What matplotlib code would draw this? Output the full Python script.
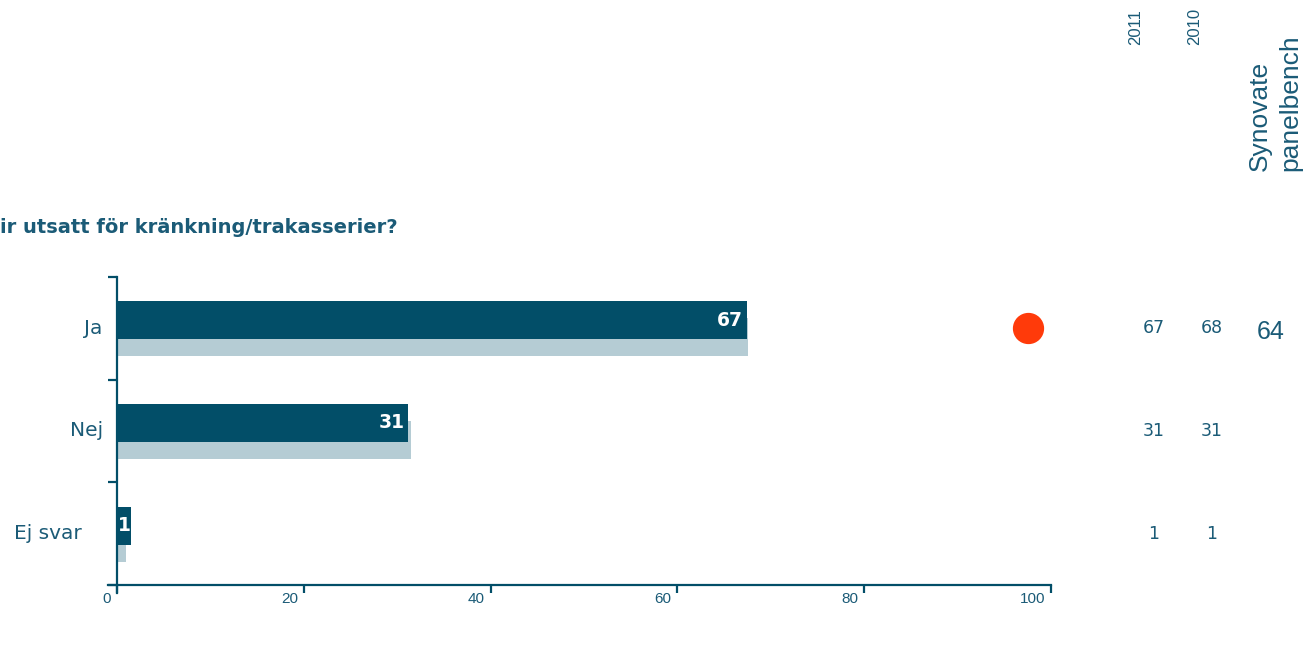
import matplotlib
matplotlib.use('Agg')
import matplotlib.pyplot as plt
import matplotlib.transforms as mtransforms
from matplotlib.lines import Line2D

# data
categories = ['Ja', 'Nej', 'Ej svar']
values_2011 = [67.4, 31.2, 1.5]
values_2010 = [67.6, 31.5, 1.0]
bar_labels = ['67', '31', '1']
table_2011 = ['67', '31', '1']
table_2010 = ['68', '31', '1']
benchmark = ['64', '', '']
flag_x = [97.5]          # red indicator dot on the "Ja" row
flag_row = [0]
xticks = [0, 20, 40, 60, 80, 100]
title = 'ir utsatt för kränkning/trakasserier?'

DARK = '#024E68'
LIGHT = '#B5CCD4'
TXT = '#1B5B77'
RED = '#FF3A0A'
W, H = 1305, 650

fig = plt.figure(figsize=(W / 100, H / 100), dpi=100)
ax = fig.add_axes([117 / W, 65 / H, 934 / W, 308 / H])

y = list(range(len(categories)))
ax.barh([v + 0.088 for v in y], values_2010, height=0.369, color=LIGHT, zorder=1)
ax.barh([v - 0.078 for v in y], values_2011, height=0.369, color=DARK, zorder=2)

off = mtransforms.offset_copy
for i, (v, lab) in enumerate(zip(values_2011, bar_labels)):
    dx = -4 if v > 5 else 0
    ax.text(v, i - 0.078, lab, transform=off(ax.transData, fig=fig, x=dx, y=0, units='dots'),
            ha='right', va='center', color='white', fontsize=13.5, fontweight='bold',
            family='DejaVu Sans', zorder=3)

ax.plot(flag_x, flag_row, 'o', color=RED, markersize=21.5, clip_on=False, zorder=4)

ax.set_xlim(0, 100)
ax.set_ylim(len(categories) - 0.5, -0.5)
for s in ax.spines.values():
    s.set_visible(False)

# axis lines, extended a little past the corner
ax.add_line(Line2D([-0.0096, 1.0], [0, 0], transform=ax.transAxes, color=DARK,
                   lw=1.6, clip_on=False))
ax.add_line(Line2D([0, 0], [-0.026, 1.0], transform=ax.transAxes, color=DARK,
                   lw=1.6, clip_on=False))

ax.set_xticks(xticks)
ax.set_xticklabels([])
ax.tick_params(axis='x', direction='out', length=6, width=1.6, color=DARK)
xt = mtransforms.blended_transform_factory(ax.transData, ax.transAxes)
for t in xticks:
    ax.text(t, 0, str(t), transform=off(xt, fig=fig, x=-6, y=-14, units='dots'),
            ha='right', va='center', fontsize=11, color=TXT, family='Liberation Sans')

ax.set_yticks([v - 0.5 for v in range(len(categories) + 1)])
ax.set_yticklabels([])
ax.tick_params(axis='y', direction='out', length=6.5, width=1.6, color=DARK)

label_pad = [15, 14, 35]
for i, (cat, p) in enumerate(zip(categories, label_pad)):
    ax.text(0, i, cat, transform=off(ax.transData, fig=fig, x=-p, y=0, units='dots'),
            ha='right', va='center', color=TXT, fontsize=14.5, family='DejaVu Sans')

fig.text(0, 1 - 228 / H, title, ha='left', va='center', color=TXT, fontsize=14,
         fontweight='bold', family='DejaVu Sans')

# right-hand table
bt = mtransforms.blended_transform_factory(fig.transFigure, ax.transData)
for i in y:
    ax.text(1154 / W, i, table_2011[i], transform=bt, ha='center', va='center',
            color=TXT, fontsize=12.5, family='DejaVu Sans')
    ax.text(1212 / W, i, table_2010[i], transform=bt, ha='center', va='center',
            color=TXT, fontsize=12.5, family='DejaVu Sans')
    if benchmark[i]:
        ax.text(1271 / W, i + 0.04, benchmark[i], transform=bt, ha='center', va='center',
                color=TXT, fontsize=18, family='Liberation Sans')

fig.text(1136 / W, 1 - 45 / H, '2011', rotation=90, ha='center', va='bottom',
         color=TXT, fontsize=12, family='Liberation Sans')
fig.text(1195 / W, 1 - 45 / H, '2010', rotation=90, ha='center', va='bottom',
         color=TXT, fontsize=12, family='Liberation Sans')
fig.text(1275 / W, 1 - 171 / H, 'Synovate\npanelbench', rotation=90, ha='center',
         va='bottom', multialignment='left', linespacing=1.35, color=TXT,
         fontsize=19, family='Liberation Sans')

fig.savefig('out.png', dpi=100)
